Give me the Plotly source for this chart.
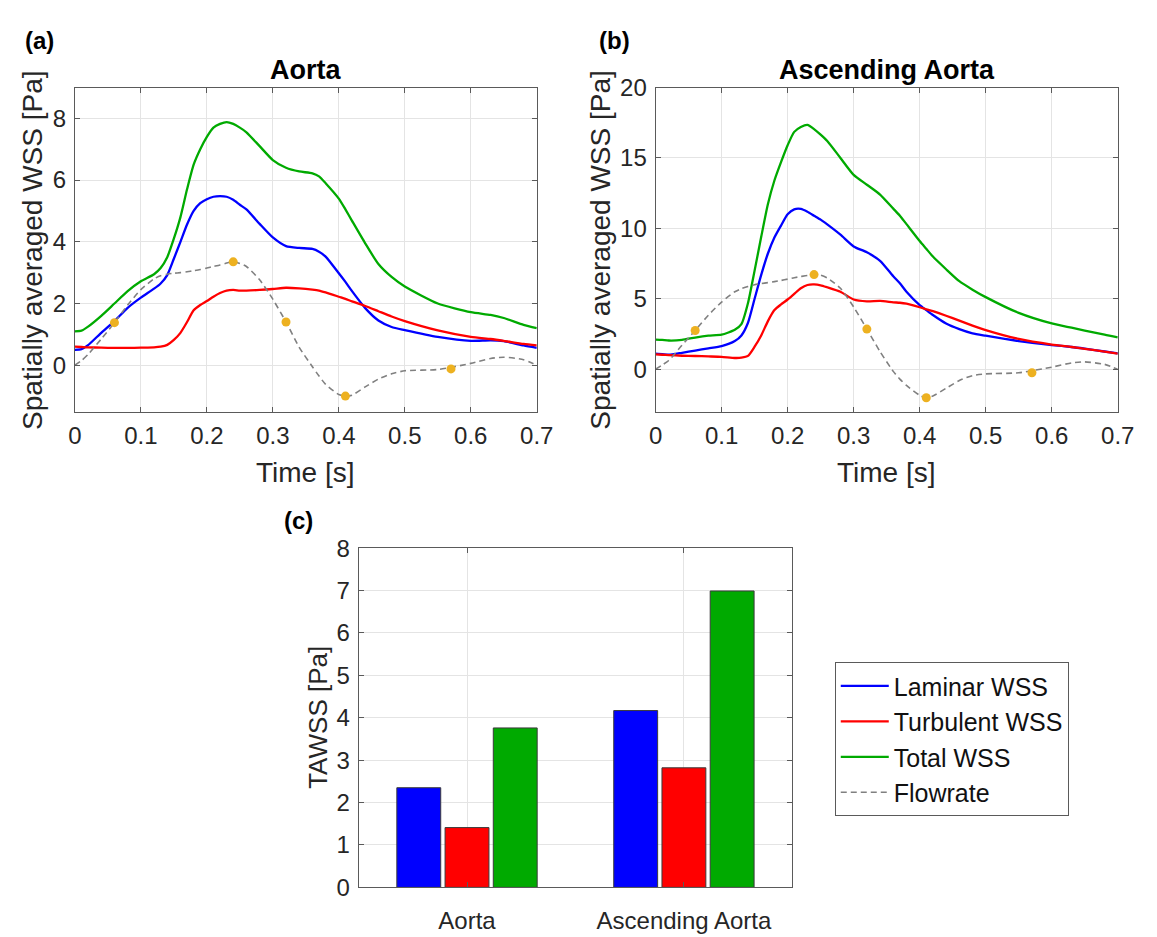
import plotly.graph_objects as go

# ---- time-resolved WSS (shared time grid, seconds) ----
time_s = [0.00, 0.01, 0.02, 0.04, 0.06, 0.08, 0.10, 0.12, 0.13, 0.14, 0.15, 0.16,
          0.17, 0.18, 0.19, 0.20, 0.21, 0.22, 0.23, 0.24, 0.25, 0.26, 0.28, 0.30,
          0.32, 0.34, 0.36, 0.37, 0.38, 0.40, 0.41, 0.42, 0.44, 0.46, 0.48, 0.50,
          0.55, 0.60, 0.63, 0.65, 0.68, 0.70]

# Aorta
aorta_laminar = [0.50, 0.52, 0.65, 1.05, 1.43, 1.86, 2.19, 2.48, 2.65, 2.92, 3.45, 4.00,
                 4.56, 5.00, 5.25, 5.38, 5.46, 5.48, 5.46, 5.36, 5.20, 5.05, 4.58, 4.14,
                 3.86, 3.80, 3.77, 3.68, 3.52, 2.98, 2.70, 2.40, 1.85, 1.45, 1.24, 1.14,
                 0.92, 0.79, 0.81, 0.78, 0.64, 0.56]
aorta_turbulent = [0.60, 0.59, 0.58, 0.57, 0.56, 0.56, 0.57, 0.58, 0.60, 0.66, 0.82, 1.05,
                   1.40, 1.78, 1.95, 2.08, 2.22, 2.34, 2.42, 2.44, 2.42, 2.42, 2.44, 2.47,
                   2.51, 2.49, 2.45, 2.42, 2.36, 2.22, 2.15, 2.07, 1.92, 1.75, 1.58, 1.43,
                   1.13, 0.92, 0.85, 0.79, 0.69, 0.64]
aorta_total = [1.10, 1.12, 1.25, 1.60, 2.00, 2.40, 2.72, 2.95, 3.15, 3.50, 4.10, 4.80,
               5.70, 6.50, 7.00, 7.40, 7.70, 7.82, 7.88, 7.82, 7.70, 7.55, 7.10, 6.65,
               6.40, 6.28, 6.22, 6.12, 5.90, 5.40, 5.05, 4.68, 3.95, 3.28, 2.86, 2.55,
               2.00, 1.72, 1.63, 1.53, 1.31, 1.20]
aorta_flow = [0.00, 0.15, 0.35, 0.85, 1.38, 1.95, 2.45, 2.80, 2.90, 2.95, 2.98, 3.00,
              3.03, 3.06, 3.10, 3.15, 3.20, 3.25, 3.31, 3.35, 3.30, 3.20, 2.77, 2.14,
              1.40, 0.58, -0.05, -0.35, -0.62, -0.95, -1.00, -0.97, -0.70, -0.45, -0.28, -0.18,
              -0.14, 0.06, 0.22, 0.26, 0.18, 0.00]

# Ascending aorta
asc_laminar = [1.11, 1.08, 1.03, 1.17, 1.33, 1.48, 1.64, 2.00, 2.40, 3.30, 5.00, 6.70,
               8.20, 9.35, 10.20, 11.00, 11.35, 11.38, 11.18, 10.90, 10.62, 10.28, 9.55, 8.72,
               8.30, 7.70, 6.60, 6.10, 5.50, 4.55, 4.20, 3.85, 3.25, 2.85, 2.55, 2.38,
               2.00, 1.72, 1.58, 1.46, 1.26, 1.12]
asc_turbulent = [1.06, 1.03, 1.00, 0.96, 0.94, 0.91, 0.88, 0.80, 0.82, 0.95, 1.60, 2.40,
                 3.40, 4.20, 4.60, 4.95, 5.35, 5.75, 5.98, 6.02, 5.96, 5.82, 5.50, 4.95,
                 4.82, 4.85, 4.75, 4.72, 4.65, 4.40, 4.26, 4.12, 3.80, 3.45, 3.10, 2.78,
                 2.15, 1.75, 1.58, 1.45, 1.25, 1.11]
asc_total = [2.10, 2.08, 2.04, 2.08, 2.25, 2.38, 2.45, 2.80, 3.20, 4.70, 7.00, 9.40,
             11.70, 13.40, 14.70, 15.90, 16.85, 17.20, 17.35, 17.05, 16.65, 16.20, 15.00, 13.80,
             13.10, 12.40, 11.40, 10.90, 10.30, 9.10, 8.55, 8.00, 7.10, 6.25, 5.65, 5.12,
             4.00, 3.25, 2.95, 2.75, 2.45, 2.27]
asc_flow = [0.00, 0.30, 0.62, 1.70, 2.75, 3.84, 4.77, 5.50, 5.72, 5.88, 6.00, 6.08,
            6.15, 6.22, 6.30, 6.40, 6.50, 6.58, 6.66, 6.72, 6.68, 6.48, 5.75, 4.42,
            2.85, 1.25, -0.15, -0.70, -1.15, -1.85, -2.02, -1.90, -1.35, -0.80, -0.45, -0.33,
            -0.25, 0.15, 0.45, 0.52, 0.35, 0.00]

# highlighted instants on the flow waveform
mark_time = [0.06, 0.24, 0.32, 0.41, 0.57]
aorta_flow_marks = [1.38, 3.35, 1.40, -1.00, -0.12]
asc_flow_marks = [2.75, 6.72, 2.85, -2.02, -0.25]

# ---- time-averaged WSS ----
regions = ["Aorta", "Ascending Aorta"]
tawss_laminar = [2.35, 4.17]
tawss_turbulent = [1.41, 2.82]
tawss_total = [3.76, 6.99]

W, H = 1157, 937
FONT = "Liberation Sans, Arial, Helvetica, sans-serif"
TXT = "#262626"
BLUE, RED, GREEN = "#0000FF", "#FF0000", "#00AA00"
GREY, GOLD = "#808080", "#EDB120"


def px_x(p):
    return p / W


def px_y(p):
    return 1 - p / H


fig = go.Figure()

panels = [
    ("x", "y", aorta_laminar, aorta_turbulent, aorta_total, aorta_flow, aorta_flow_marks, True),
    ("x2", "y2", asc_laminar, asc_turbulent, asc_total, asc_flow, asc_flow_marks, False),
]
for xa, ya, lam, tur, tot, flow, marks, legend in panels:
    for name, vals, col in [("Laminar WSS", lam, BLUE), ("Turbulent WSS", tur, RED),
                            ("Total WSS", tot, GREEN)]:
        fig.add_trace(go.Scatter(
            x=time_s, y=vals, mode="lines", name=name, xaxis=xa, yaxis=ya,
            line=dict(color=col, width=2.3, shape="spline", smoothing=0.6),
            showlegend=legend))
    fig.add_trace(go.Scatter(
        x=time_s, y=flow, mode="lines", name="Flowrate", xaxis=xa, yaxis=ya,
        line=dict(color=GREY, width=1.6, dash="6px,4px", shape="spline", smoothing=0.6),
        showlegend=legend))
    fig.add_trace(go.Scatter(
        x=mark_time, y=marks, mode="markers", xaxis=xa, yaxis=ya,
        marker=dict(color=GOLD, size=9), showlegend=False))

for name, vals, col in [("Laminar WSS", tawss_laminar, BLUE),
                        ("Turbulent WSS", tawss_turbulent, RED),
                        ("Total WSS", tawss_total, GREEN)]:
    fig.add_trace(go.Bar(
        x=regions, y=vals, name=name, xaxis="x3", yaxis="y3",
        marker=dict(color=col, line=dict(color="#3a3a3a", width=1)),
        showlegend=False))

axis_common = dict(
    showline=True, mirror="ticks", linecolor="#5a5a5a", linewidth=1,
    ticks="inside", ticklen=5, tickcolor="#5a5a5a", tickwidth=1,
    showgrid=True, gridcolor="#E4E4E4", gridwidth=1, zeroline=False,
    tickfont=dict(family=FONT, size=24, color=TXT),
)

a_x = [px_x(69.3), px_x(541.0)]
b_x = [px_x(662.3), px_x(1134.3)]
ab_y = [px_y(409.3), px_y(75.7)]
c_x = [px_x(359.0), px_x(802.0)]
c_y = [px_y(899.3), px_y(550.0)]

fig.update_layout(
    width=W, height=H,
    margin=dict(l=0, r=0, t=0, b=0),
    paper_bgcolor="white", plot_bgcolor="white",
    font=dict(family=FONT, color=TXT),
    barmode="group", bargap=0.333, bargroupgap=0.09,
    xaxis=dict(domain=a_x, anchor="y", range=[0, 0.7], dtick=0.1,
               ticklabelstandoff=3, **axis_common),
    yaxis=dict(domain=ab_y, anchor="x", range=[-1.5, 9], tickvals=[0, 2, 4, 6, 8],
               ticklabelstandoff=3, **axis_common),
    xaxis2=dict(domain=b_x, anchor="y2", range=[0, 0.7], dtick=0.1,
                ticklabelstandoff=3, **axis_common),
    yaxis2=dict(domain=ab_y, anchor="x2", range=[-3, 20], tickvals=[0, 5, 10, 15, 20],
                ticklabelstandoff=3, **axis_common),
    xaxis3=dict(domain=c_x, anchor="y3", type="category", range=[-0.5, 1.5],
                ticklabelstandoff=12, **axis_common),
    yaxis3=dict(domain=c_y, anchor="x3", range=[0, 8], dtick=1,
                ticklabelstandoff=3, **axis_common),
    legend=dict(
        x=px_x(845.3), y=px_y(667.3), xanchor="left", yanchor="top",
        bgcolor="white", bordercolor="#5a5a5a", borderwidth=1,
        font=dict(family=FONT, size=25, color="#111111"),
        itemwidth=48, tracegroupgap=0,
    ),
)

ann = []
# panel letters
for txt, x, y in [("(a)", 16.0, 27), ("(b)", 602, 27), ("(c)", 281, 522)]:
    ann.append(dict(text=f"<b>{txt}</b>", x=px_x(x), y=px_y(y), xref="paper", yref="paper",
                    xanchor="left", yanchor="middle", showarrow=False,
                    font=dict(family=FONT, size=24, color="black")))
# subplot titles
for txt, xc in [("Aorta", (69.3 + 541.0) / 2), ("Ascending Aorta", (662.3 + 1134.3) / 2)]:
    ann.append(dict(text=f"<b>{txt}</b>", x=px_x(xc), y=px_y(57.5), xref="paper", yref="paper",
                    xanchor="center", yanchor="middle", showarrow=False,
                    font=dict(family=FONT, size=27, color="black")))
# axis titles
for xc in [(69.3 + 541.0) / 2, (662.3 + 1134.3) / 2]:
    ann.append(dict(text="Time [s]", x=px_x(xc), y=px_y(471.7), xref="paper", yref="paper",
                    xanchor="center", yanchor="middle", showarrow=False,
                    font=dict(family=FONT, size=28, color=TXT)))
for xc in [26.0, 605.8]:
    ann.append(dict(text="Spatially averaged WSS [Pa]", x=px_x(xc), y=px_y(242.5),
                    xref="paper", yref="paper", xanchor="center", yanchor="middle",
                    textangle=-90, showarrow=False,
                    font=dict(family=FONT, size=28, color=TXT)))
ann.append(dict(text="TAWSS [Pa]", x=px_x(317.7), y=px_y(724.6), xref="paper", yref="paper",
                xanchor="center", yanchor="middle", textangle=-90, showarrow=False,
                font=dict(family=FONT, size=26, color=TXT)))
fig.update_layout(annotations=ann)

fig.write_html("out.html")
